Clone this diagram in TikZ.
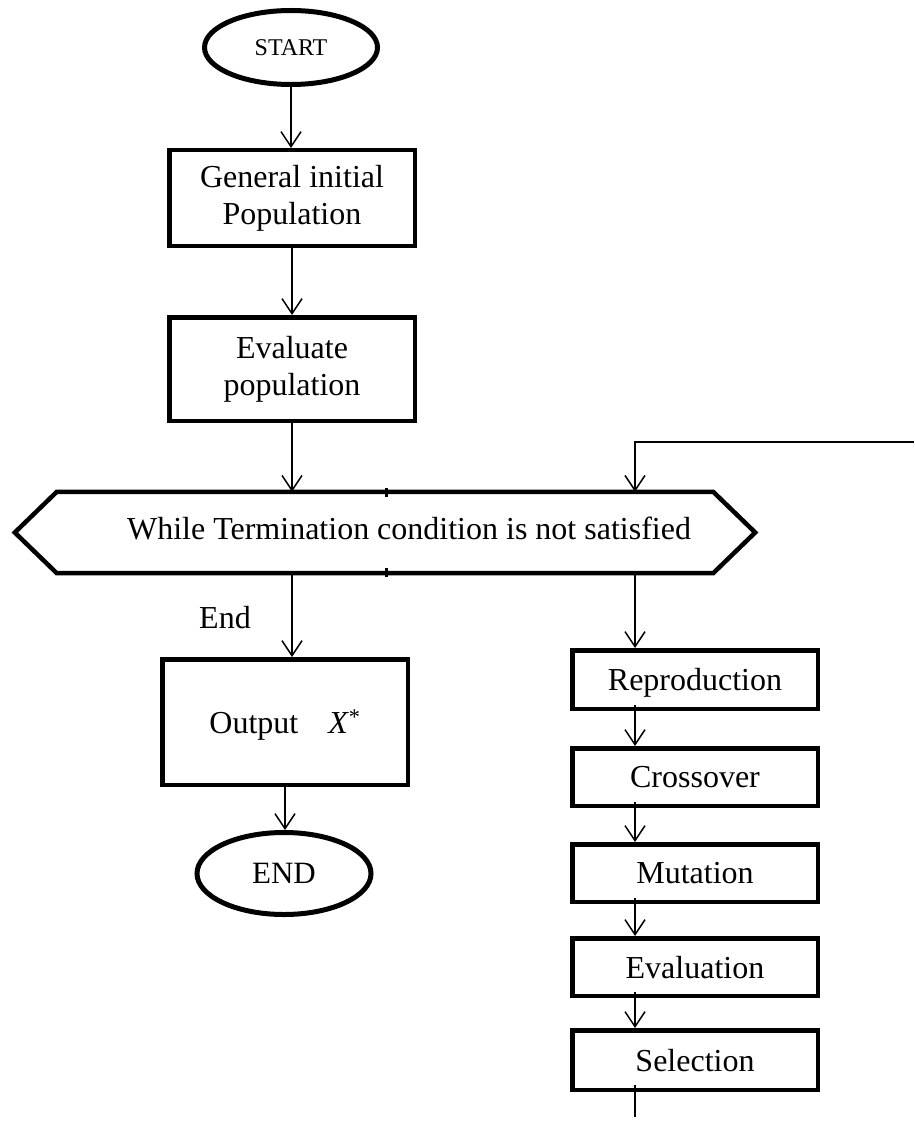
\documentclass[tikz,border=0pt]{standalone}
\usepackage{fontspec}
\setmainfont{Liberation Serif}
\usetikzlibrary{arrows.meta,shapes.geometric,calc}
\begin{document}
\begin{tikzpicture}[x=1pt,y=-1pt,
  box/.style={draw, line width=4.5pt, rectangle, inner sep=0pt, minimum width=245.5pt, align=center, font=\fontsize{32}{37}\selectfont},
  rbox/.style={box, text depth=0pt},
  term/.style={draw, ellipse, line width=5pt, inner sep=0pt},
  arr/.style={line width=1.5pt, -{Straight Barb[length=15pt,width=20pt]}},
  plainline/.style={line width=1.5pt},
  lbl/.style={font=\fontsize{32}{37}\selectfont, inner sep=0pt}
]
\useasboundingbox (0,0) rectangle (914,1126);

% left column
\node[term, minimum width=173pt, minimum height=74pt, font=\fontsize{24}{28}\selectfont] (start) at (291,47.5) {START};
\node[box, minimum height=95.5pt] (gen) at (292,198) {General initial\\Population};
\node[box, minimum height=103.5pt] (evalpop) at (292,369) {Evaluate\\population};

% hexagon
\node[draw=none, minimum width=740pt, minimum height=81pt, inner sep=0pt] (hex) at (385,532.5) {};
\draw[line width=4.5pt, line join=miter]
  (hex.west) -- ($(hex.north west)+(42,0)$) -- ($(hex.north east)+(-42,0)$)
  -- (hex.east) -- ($(hex.south east)+(-42,0)$) -- ($(hex.south west)+(42,0)$) -- cycle;
\draw[line width=3pt] (386,488) -- (386,497);
\draw[line width=3pt] (386,568) -- (386,577);
\node[lbl] (hextext) at (409,528) {While Termination condition is not satisfied};

\node[lbl] (endlbl) at (225,617.5) {End};
\node[box, minimum height=125.5pt, text depth=0pt] (out) at (285,722) {Output\hspace{30pt}\textit{X}\textsuperscript{*}};
\node[term, minimum width=174pt, minimum height=82pt, font=\fontsize{31}{36}\selectfont] (endn) at (284,873.5) {END};

% right column
\node[rbox, minimum height=58.5pt] (repro) at (695,679.5) {Reproduction};
\node[rbox, minimum height=57.5pt] (cross) at (695,777) {Crossover};
\node[rbox, minimum height=57.5pt] (mut) at (695,873) {Mutation};
\node[rbox, minimum height=57.5pt] (evalu) at (695,967) {Evaluation};
\node[rbox, minimum height=59.5pt] (sel) at (695,1060) {Selection};

\coordinate (c) at (635,0);
\coordinate (fb) at (914,442);
\coordinate (tail) at (635,1117);

% connectors left
\draw[arr] (start.south) -- (start.south |- gen.north);
\draw[arr] (gen.south) -- (evalpop.north);
\draw[arr] (evalpop.south) -- (evalpop.south |- hex.north);
\draw[arr] (evalpop.south |- hex.south) -- (evalpop.south |- out.north);
\draw[arr] (out.south) -- (out.south |- endn.north);

% feedback
\draw[arr] (fb) -- (fb -| c) -- (c |- hex.north);

% connectors right
\draw[arr] (c |- hex.south) -- (c |- repro.north);
\draw[arr] ($(c |- repro.south)+(0,-6)$) -- (c |- cross.north);
\draw[arr] ($(c |- cross.south)+(0,-6)$) -- (c |- mut.north);
\draw[arr] ($(c |- mut.south)+(0,-6)$) -- (c |- evalu.north);
\draw[arr] ($(c |- evalu.south)+(0,-6)$) -- (c |- sel.north);
\draw[plainline] ($(c |- sel.south)+(0,-7)$) -- (tail);
\end{tikzpicture}
\end{document}
